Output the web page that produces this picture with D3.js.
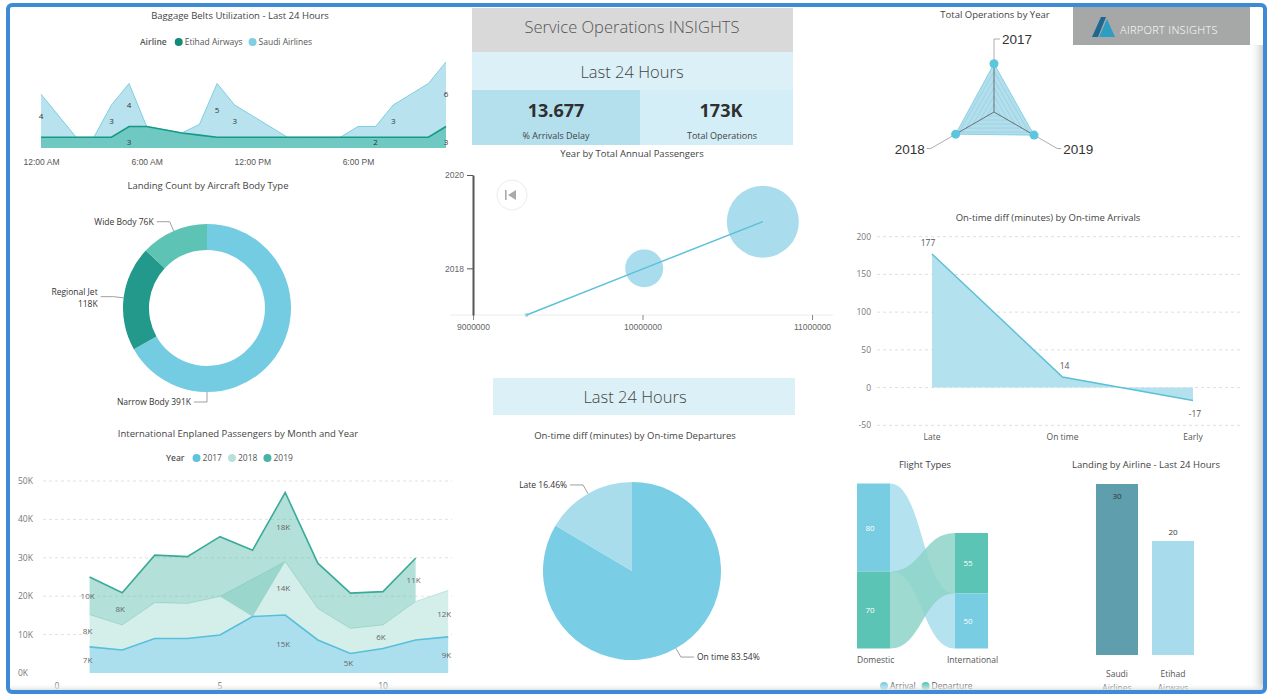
<!DOCTYPE html>
<html>
<head>
<meta charset="utf-8">
<script src="https://cdn.jsdelivr.net/npm/d3@7"></script>
<style>
  body { margin: 0; background: #fff; }
  svg { display: block; font-family: "Open Sans", "Noto Sans", sans-serif; }
</style>
</head>
<body>
<svg id="dash" width="1272" height="700"></svg>
<script>
// ---------- data ----------
// baggage belts in use per hour
const beltHours = [0,1,2,3,4,5,6,7,8,9,10,11,12,13,14,15,16,17,18,19,20,21,22,23];
const etihadBelts = [2,2,2,2,2,3,3,2.7,2.4,2.2,2,2,2,2,2,2,2,2,2,2,2,2,2,3];
const saudiBelts  = [4,2,0,0,3,4,0,0,0,1,5,3,2,1,0,0,0,0,1,1,3,4,5,6];
const beltTickHours = [0,6,12,18];
const beltTickLabels = ["12:00 AM","6:00 AM","12:00 PM","6:00 PM"];
const saudiLabelHours = [0,4,5,10,11,20,23];
const etihadLabelHours = [5,19,23];

// landings by body type (K)
const bodyTypes = ["Narrow Body","Regional Jet","Wide Body"];
const bodyLandings = [391,118,76];

// international enplaned passengers (K)
const months = [1,2,3,4,5,6,7,8,9,10,11,12];
const pax2017 = [6.8,6.0,9.0,9.0,9.9,14.7,15.1,8.6,5.1,6.4,8.6,9.4];
const pax2018 = [8.4,6.5,9.3,9.1,10.0,null,13.9,8.2,6.5,6.1,10.0,12.1];
const pax2019 = [9.8,8.4,12.4,12.2,15.6,17.3,18.0,11.8,9.2,8.7,11.3,null];
const paxTicksY = [0,10,20,30,40,50];
const paxTicksX = [0,5,10];
const label2017 = [1,7,9,12];
const label2018 = [1,7,10,12];
const label2019 = [1,2,7,11];

// KPIs
const kpiDelay = "13.677";
const kpiOps = "173K";

// year by total annual passengers
const paxYears = [2017,2018,2019];
const annualPassengers = [9316000,10010000,10710000];
const bubbleSize = [4,360,1300];

// on-time departures (%)
const departureStatus = ["On time","Late"];
const departureShare = [83.54,16.46];

// total operations by year
const opsYears = ["2017","2018","2019"];
const opsTotals = [61000,56000,58500];

// on-time diff by arrival status (minutes)
const arrivalStatus = ["Late","On time","Early"];
const arrivalDiff = [177,14,-17];
const arrivalTicks = [-50,0,50,100,150,200];

// flight types
const flightTypes = ["Domestic","International"];
const arrivals = [80,50];
const departures = [70,55];

// landings by airline
const airlines = ["Saudi Airlines","Etihad Airways"];
const airlineLandings = [30,20];

// ---------- helpers ----------
const svg = d3.select("#dash");
const txt = "#444";

function title(x, y, s) {
  svg.append("text")
    .attr("x", x).attr("y", y)
    .attr("text-anchor", "middle")
    .style("font-size", "9.5px")
    .style("fill", txt)
    .text(s);
}

function legend(x, y, head, items) {
  let g = svg.append("g").style("font-size", "8.5px").style("fill", "#555");
  let t = g.append("text").attr("x", x).attr("y", y).style("font-weight", 600).text(head);
  let cx = x + t.node().getComputedTextLength() + 8;
  items.forEach(it => {
    g.append("circle").attr("cx", cx + 4).attr("cy", y - 3).attr("r", 4).attr("fill", it.color);
    let l = g.append("text").attr("x", cx + 10).attr("y", y).text(it.name);
    cx += 10 + l.node().getComputedTextLength() + 6;
  });
}

function leader(cx, cy, r, angle, lines) {
  let sx = cx + r * Math.sin(angle), sy = cy - r * Math.cos(angle);
  let ex = cx + (r + 10) * Math.sin(angle), ey = cy - (r + 10) * Math.cos(angle);
  let side = Math.sin(angle) > 0.01 ? 1 : -1;
  svg.append("polyline")
    .attr("points", [[sx, sy], [ex, ey], [ex + side * 13, ey]].join(" "))
    .attr("fill", "none").attr("stroke", "#888").attr("stroke-width", 0.8);
  let t = svg.append("text")
    .attr("x", ex + side * 16).attr("y", ey + (lines.length > 1 ? -2 : 3))
    .attr("text-anchor", side > 0 ? "start" : "end")
    .style("font-size", "8.5px").style("fill", "#333");
  lines.forEach((s, i) => t.append("tspan").attr("x", ex + side * 16).attr("dy", i ? 12 : 0).text(s));
}

// ---------- baggage belts ----------
title(240, 19, "Baggage Belts Utilization - Last 24 Hours");
legend(140, 45, "Airline", [{name: "Etihad Airways", color: "#138a7a"}, {name: "Saudi Airlines", color: "#7fcfe1"}]);

let beltX = d3.scaleLinear().domain([0, 23]).range([41, 446]);
let beltY = d3.scaleLinear().domain([1, 9]).range([148, 62]);
let beltRows = beltHours.map((h, i) => ({h: h, e: etihadBelts[i], s: saudiBelts[i]}));

svg.append("path").datum(beltRows)
  .attr("d", d3.area().x(d => beltX(d.h)).y0(d => beltY(d.e)).y1(d => beltY(d.e + d.s)))
  .attr("fill", "#b8e2ee");
svg.append("path").datum(beltRows)
  .attr("d", d3.line().x(d => beltX(d.h)).y(d => beltY(d.e + d.s)))
  .attr("fill", "none").attr("stroke", "#7fcfe1").attr("stroke-width", 1);
svg.append("path").datum(beltRows)
  .attr("d", d3.area().x(d => beltX(d.h)).y0(beltY(1)).y1(d => beltY(d.e)))
  .attr("fill", "#6fc8c2");
svg.append("path").datum(beltRows)
  .attr("d", d3.line().x(d => beltX(d.h)).y(d => beltY(d.e)))
  .attr("fill", "none").attr("stroke", "#179985").attr("stroke-width", 1.6);

svg.append("g").selectAll("text")
  .data(saudiLabelHours)
  .enter().append("text")
  .attr("x", h => beltX(h))
  .attr("y", h => (beltY(etihadBelts[h]) + beltY(etihadBelts[h] + saudiBelts[h])) / 2 + 3)
  .attr("text-anchor", "middle")
  .style("font-size", "8px").style("fill", "#333")
  .text(h => saudiBelts[h]);
svg.append("g").selectAll("text")
  .data(etihadLabelHours)
  .enter().append("text")
  .attr("x", h => beltX(h))
  .attr("y", 145)
  .attr("text-anchor", "middle")
  .style("font-size", "8px").style("fill", "#333")
  .text(h => Math.round(etihadBelts[h]));

let beltAxis = svg.append("g")
  .attr("transform", "translate(0,151)")
  .call(d3.axisBottom(beltX).tickValues(beltTickHours).tickFormat((d, i) => beltTickLabels[i]).tickSize(0).tickPadding(8));
beltAxis.select(".domain").remove();
beltAxis.selectAll("text").style("font-size", "8.5px").style("fill", "#555").style("font-family", "inherit");

// ---------- donut ----------
title(208, 189, "Landing Count by Aircraft Body Type");
let bodyColors = ["#74cce3", "#22998a", "#5cc3b5"];
let donutCx = 207, donutCy = 308, donutR = 84;
let bodyPie = d3.pie().sort(null)(bodyLandings);
svg.append("g")
  .attr("transform", `translate(${donutCx},${donutCy})`)
  .selectAll("path")
  .data(bodyPie)
  .enter().append("path")
  .attr("d", d3.arc().innerRadius(58).outerRadius(donutR))
  .attr("fill", (d, i) => bodyColors[i]);
bodyPie.forEach((d, i) => {
  let mid = (d.startAngle + d.endAngle) / 2;
  let ang = mid > 1.7 && mid < 2.6 ? Math.PI : mid; // big slice label sits below the ring
  let lines = bodyTypes[i] === "Regional Jet"
    ? [bodyTypes[i], bodyLandings[i] + "K"]
    : [bodyTypes[i] + " " + bodyLandings[i] + "K"];
  leader(donutCx, donutCy, donutR, ang, lines);
});

// ---------- enplaned passengers ----------
title(238, 437, "International Enplaned Passengers by Month and Year");
legend(166, 461, "Year", [{name: "2017", color: "#5ec4de"}, {name: "2018", color: "#b8e1db"}, {name: "2019", color: "#47b5a3"}]);

let paxX = d3.scaleLinear().domain([0, 10]).range([57, 383]);
let paxY = d3.scaleLinear().domain([0, 50]).range([673, 481]);
let paxRows = months.map((m, i) => {
  let c17 = pax2017[i];
  let c18 = c17 + (pax2018[i] || 0);
  return {m: m, c17: c17, v18: pax2018[i], c18: c18, v19: pax2019[i], c19: c18 + (pax2019[i] || 0)};
});

svg.append("g").selectAll("line")
  .data(paxTicksY.slice(1))
  .enter().append("line")
  .attr("x1", 43).attr("x2", 452)
  .attr("y1", d => paxY(d)).attr("y2", d => paxY(d))
  .attr("stroke", "#e2e2e2").attr("stroke-dasharray", "3,3");
svg.append("g").selectAll("text")
  .data(paxTicksY)
  .enter().append("text")
  .attr("x", 18).attr("y", d => paxY(d) + 3)
  .style("font-size", "8.5px").style("fill", "#777")
  .text(d => d + "K");
svg.append("g").selectAll("text")
  .data(paxTicksX)
  .enter().append("text")
  .attr("x", d => paxX(d)).attr("y", 689)
  .attr("text-anchor", "middle")
  .style("font-size", "8.5px").style("fill", "#777")
  .text(d => d);

svg.append("path").datum(paxRows)
  .attr("d", d3.area().x(d => paxX(d.m)).y0(paxY(0)).y1(d => paxY(d.c17)))
  .attr("fill", "#abdfee");
// 2018: top skips the missing month, bottom follows 2017
let top18 = paxRows.filter(d => d.v18 != null).map(d => [paxX(d.m), paxY(d.c17 + d.v18)]);
let bot18 = paxRows.map(d => [paxX(d.m), paxY(d.c17)]).reverse();
svg.append("path")
  .attr("d", d3.line()(top18.concat(bot18)) + "Z")
  .attr("fill", "#d4eeea");
svg.append("path")
  .attr("d", d3.line()(top18))
  .attr("fill", "none").attr("stroke", "#bfe3dd").attr("stroke-width", 1);
let rows19 = paxRows.filter(d => d.v19 != null);
svg.append("path").datum(rows19)
  .attr("d", d3.area().x(d => paxX(d.m)).y0(d => paxY(d.c18)).y1(d => paxY(d.c19)))
  .attr("fill", "#4ab6a3").attr("fill-opacity", 0.42);
svg.append("path").datum(rows19)
  .attr("d", d3.line().x(d => paxX(d.m)).y(d => paxY(d.c19)))
  .attr("fill", "none").attr("stroke", "#3aab98").attr("stroke-width", 1.6);
svg.append("path").datum(paxRows)
  .attr("d", d3.line().x(d => paxX(d.m)).y(d => paxY(d.c17)))
  .attr("fill", "none").attr("stroke", "#57bfdc").attr("stroke-width", 1.6);

function paxLabels(list, lo, hi, val) {
  svg.append("g").selectAll("text")
    .data(list)
    .enter().append("text")
    .attr("x", m => m === 12 ? paxX(m) + 3 : paxX(m) - 2)
    .attr("y", m => (paxY(lo(paxRows[m - 1])) + paxY(hi(paxRows[m - 1]))) / 2 + 3)
    .attr("text-anchor", m => m === 12 ? "end" : "middle")
    .style("font-size", "8px").style("fill", "#666")
    .text(m => Math.round(val(paxRows[m - 1])) + "K");
}
paxLabels(label2017, d => 0, d => d.c17, d => d.c17);
paxLabels(label2018, d => d.c17, d => d.c18, d => d.v18);
paxLabels(label2019, d => d.c18, d => d.c19, d => d.v19);

// ---------- KPI header ----------
svg.append("rect").attr("x", 472).attr("y", 8).attr("width", 321).attr("height", 44).attr("fill", "#d9d9d9");
svg.append("rect").attr("x", 472).attr("y", 52).attr("width", 321).attr("height", 38).attr("fill", "#dcf1f7");
svg.append("rect").attr("x", 472).attr("y", 90).attr("width", 168).attr("height", 55).attr("fill", "#b4e0ee");
svg.append("rect").attr("x", 640).attr("y", 90).attr("width", 153).attr("height", 55).attr("fill", "#d3eef6");
svg.append("text").attr("x", 632).attr("y", 33).attr("text-anchor", "middle")
  .style("font-size", "16.5px").style("font-weight", 300).style("fill", "#555").text("Service Operations INSIGHTS");
svg.append("text").attr("x", 632).attr("y", 78).attr("text-anchor", "middle")
  .style("font-size", "16.5px").style("font-weight", 300).style("fill", "#444").text("Last 24 Hours");
svg.append("text").attr("x", 556).attr("y", 117).attr("text-anchor", "middle")
  .style("font-size", "18px").style("font-weight", 700).style("fill", "#2f2f2f").text(kpiDelay);
svg.append("text").attr("x", 556).attr("y", 139).attr("text-anchor", "middle")
  .style("font-size", "9px").style("fill", "#444").text("% Arrivals Delay");
svg.append("text").attr("x", 721).attr("y", 117).attr("text-anchor", "middle")
  .style("font-size", "18px").style("font-weight", 700).style("fill", "#2f2f2f").text(kpiOps);
svg.append("text").attr("x", 722).attr("y", 139).attr("text-anchor", "middle")
  .style("font-size", "9px").style("fill", "#444").text("Total Operations");

// ---------- scatter ----------
title(632, 157, "Year by Total Annual Passengers");
let scX = d3.scaleLinear().domain([9000000, 11000000]).range([473, 812]);
let scY = d3.scaleLinear().domain([2017, 2020]).range([315, 175]);
let scR = d3.scaleSqrt().domain([0, 1300]).range([0, 36]);
let scPts = paxYears.map((y, i) => ({year: y, pax: annualPassengers[i], size: bubbleSize[i]}));

svg.append("line").attr("x1", 450).attr("x2", 833).attr("y1", 315).attr("y2", 315)
  .attr("stroke", "#ececec");
let sxAxis = svg.append("g")
  .attr("transform", "translate(0,315)")
  .call(d3.axisBottom(scX).tickValues([9000000, 10000000, 11000000]).tickFormat(d3.format("d")).tickSize(5).tickSizeOuter(0).tickPadding(4));
sxAxis.select(".domain").remove();
sxAxis.selectAll("line").attr("stroke", "#888");
sxAxis.selectAll("text").style("font-size", "8.5px").style("fill", "#666").style("font-family", "inherit");
let syAxis = svg.append("g")
  .attr("transform", "translate(473,0)")
  .call(d3.axisLeft(scY).tickValues([2018, 2020]).tickFormat(d3.format("d")).tickSize(6).tickSizeOuter(0));
syAxis.select(".domain").attr("stroke", "#555").attr("stroke-width", 2);
syAxis.selectAll("line").attr("stroke", "#555");
syAxis.selectAll("text").style("font-size", "8.5px").style("fill", "#666").style("font-family", "inherit");

svg.append("g").selectAll("circle")
  .data(scPts)
  .enter().append("circle")
  .attr("cx", d => scX(d.pax)).attr("cy", d => scY(d.year))
  .attr("r", d => scR(d.size))
  .attr("fill", "#a9dcec");
svg.append("path").datum(scPts)
  .attr("d", d3.line().x(d => scX(d.pax)).y(d => scY(d.year)))
  .attr("fill", "none").attr("stroke", "#5cc0d9").attr("stroke-width", 1.5);

// play button
svg.append("circle").attr("cx", 512).attr("cy", 195).attr("r", 15).attr("fill", "#fff").attr("stroke", "#ececec");
svg.append("rect").attr("x", 505).attr("y", 190).attr("width", 1.6).attr("height", 10).attr("fill", "#aaa");
svg.append("path").attr("d", "M508,195L516,190L516,200Z").attr("fill", "#aaa");

// ---------- departures pie ----------
svg.append("rect").attr("x", 493).attr("y", 378).attr("width", 302).attr("height", 37).attr("fill", "#dcf1f7");
svg.append("text").attr("x", 635).attr("y", 403).attr("text-anchor", "middle")
  .style("font-size", "16.5px").style("font-weight", 300).style("fill", "#444").text("Last 24 Hours");
title(635, 439, "On-time diff (minutes) by On-time Departures");

let pieCx = 632, pieCy = 571, pieR = 89;
let depColors = ["#79cde4", "#a9ddec"];
let depPie = d3.pie().sort(null)(departureShare);
svg.append("g")
  .attr("transform", `translate(${pieCx},${pieCy})`)
  .selectAll("path")
  .data(depPie)
  .enter().append("path")
  .attr("d", d3.arc().innerRadius(0).outerRadius(pieR))
  .attr("fill", (d, i) => depColors[i]);
depPie.forEach((d, i) => {
  leader(pieCx, pieCy, pieR, (d.startAngle + d.endAngle) / 2, [departureStatus[i] + " " + departureShare[i].toFixed(2) + "%"]);
});

// ---------- radar ----------
title(995, 18, "Total Operations by Year");
let radCx = 994, radCy = 112, radMax = 49;
let radR = d3.scaleLinear().domain([0, 62000]).range([0, radMax]);
// axes clockwise from top: 2017 top, 2019 lower right, 2018 lower left
let radAngles = [0, 4 * Math.PI / 3, 2 * Math.PI / 3];
let radPt = (i, r) => [radCx + r * Math.sin(radAngles[i]), radCy - r * Math.cos(radAngles[i])];

let radPoly = opsTotals.map((v, i) => radPt(i, radR(v)));
svg.append("path").attr("d", d3.line()(radPoly) + "Z")
  .attr("fill", "#a9dcec").attr("fill-opacity", 0.9)
  .attr("stroke", "#86d1e3").attr("stroke-width", 1);
[1, 2, 3, 4, 5].forEach(k => {
  let ring = opsYears.map((y, i) => radPt(i, radMax * 0.82 * k / 5));
  svg.append("path").attr("d", d3.line()(ring) + "Z")
    .attr("fill", "none").attr("stroke", "#7fb0bc").attr("stroke-width", 0.5).attr("stroke-opacity", 0.6);
});
opsYears.forEach((y, i) => {
  let p = radPt(i, radR(opsTotals[i]));
  svg.append("line").attr("x1", radCx).attr("y1", radCy).attr("x2", p[0]).attr("y2", p[1])
    .attr("stroke", "#555").attr("stroke-width", 0.8);
});
svg.append("g").selectAll("circle")
  .data(radPoly)
  .enter().append("circle")
  .attr("cx", d => d[0]).attr("cy", d => d[1]).attr("r", 4.5)
  .attr("fill", "#5cc6de");
opsYears.forEach((y, i) => {
  let a = radPt(i, radR(opsTotals[i]) + 4);
  let e = radPt(i, radMax + 24);
  let side = i === 1 ? -1 : 1;
  let ext = i === 0 ? 6 : 4;
  svg.append("polyline")
    .attr("points", [a, e, [e[0] + side * ext, e[1]]].join(" "))
    .attr("fill", "none").attr("stroke", "#999").attr("stroke-width", 0.8);
  svg.append("text")
    .attr("x", e[0] + side * (ext + 2)).attr("y", e[1] + 5)
    .attr("text-anchor", side > 0 ? "start" : "end")
    .style("font-family", "'Liberation Sans', Arial, sans-serif")
    .style("font-size", "13.5px").style("fill", "#333")
    .text(y);
});

// ---------- logo ----------
svg.append("rect").attr("x", 1073).attr("y", 7).attr("width", 177).attr("height", 38).attr("fill", "#a6a8a8");
svg.append("path").attr("d", "M1092,37L1101,17L1106,17L1098,37Z").attr("fill", "#1d6791");
svg.append("path").attr("d", "M1099,37L1107,19L1115,37Z").attr("fill", "#2d9ec2");
svg.append("text").attr("x", 1120).attr("y", 34)
  .style("font-size", "11px").style("font-weight", 300).style("fill", "#fff").style("letter-spacing", "0.3px")
  .text("AIRPORT INSIGHTS");

// ---------- arrivals on-time diff ----------
title(1048, 221, "On-time diff (minutes) by On-time Arrivals");
let arrX = d3.scalePoint().domain(arrivalStatus).range([932, 1193]);
let arrY = d3.scaleLinear().domain([-50, 200]).range([425.3, 236.7]);
svg.append("g").selectAll("line")
  .data(arrivalTicks)
  .enter().append("line")
  .attr("x1", 877).attr("x2", 1243)
  .attr("y1", d => arrY(d)).attr("y2", d => arrY(d))
  .attr("stroke", "#dedede").attr("stroke-dasharray", "3,3");
svg.append("g").selectAll("text")
  .data(arrivalTicks)
  .enter().append("text")
  .attr("x", 871).attr("y", d => arrY(d) + 3)
  .attr("text-anchor", "end")
  .style("font-size", "8.5px").style("fill", "#777")
  .text(d => d);
let arrRows = arrivalStatus.map((s, i) => ({s: s, v: arrivalDiff[i]}));
svg.append("path").datum(arrRows)
  .attr("d", d3.area().x(d => arrX(d.s)).y0(arrY(0)).y1(d => arrY(d.v)))
  .attr("fill", "#b3e1ee");
svg.append("path").datum(arrRows)
  .attr("d", d3.line().x(d => arrX(d.s)).y(d => arrY(d.v)))
  .attr("fill", "none").attr("stroke", "#5cc0d9").attr("stroke-width", 1.5);
svg.append("g").selectAll("text")
  .data(arrRows)
  .enter().append("text")
  .attr("x", d => arrX(d.s) + (d.v > 100 ? -4 : 2))
  .attr("y", d => d.v >= 0 ? arrY(d.v) - 8 : arrY(d.v) + 17)
  .attr("text-anchor", "middle")
  .style("font-size", "8.5px").style("fill", "#555")
  .text(d => d.v);
svg.append("g").selectAll("text")
  .data(arrivalStatus)
  .enter().append("text")
  .attr("x", d => arrX(d)).attr("y", 440)
  .attr("text-anchor", "middle")
  .style("font-size", "8.5px").style("fill", "#555")
  .text(d => d);

// ---------- flight types ribbon ----------
title(925, 468, "Flight Types");
let ftH = d3.scaleLinear().domain([0, 150]).range([0, 165]);
let ftBottom = 648.5;
let ftNodeX = [857, 955], ftNodeW = 33;
let serColor = {Arrival: "#78cde3", Departure: "#5cc4b4"};
let ribColor = {Arrival: "#a8ddec", Departure: "#8dd4c8"};
// per node: stack segments, larger value on top
let ftSegs = flightTypes.map((f, i) => {
  let segs = [{ser: "Arrival", v: arrivals[i]}, {ser: "Departure", v: departures[i]}]
    .sort((a, b) => b.v - a.v);
  let y = ftBottom - ftH(arrivals[i] + departures[i]);
  segs.forEach(s => { s.y0 = y; y += ftH(s.v); s.y1 = y; });
  return segs;
});
["Arrival", "Departure"].forEach(ser => {
  let a = ftSegs[0].find(s => s.ser === ser), b = ftSegs[1].find(s => s.ser === ser);
  let x0 = ftNodeX[0] + ftNodeW, x1 = ftNodeX[1], xm = (x0 + x1) / 2;
  let p = d3.path();
  p.moveTo(x0, a.y0);
  p.bezierCurveTo(xm, a.y0, xm, b.y0, x1, b.y0);
  p.lineTo(x1, b.y1);
  p.bezierCurveTo(xm, b.y1, xm, a.y1, x0, a.y1);
  p.closePath();
  svg.append("path").attr("d", p.toString()).attr("fill", ribColor[ser]).attr("fill-opacity", 0.85);
});
ftSegs.forEach((segs, i) => {
  segs.forEach(s => {
    svg.append("rect").attr("x", ftNodeX[i]).attr("y", s.y0)
      .attr("width", ftNodeW).attr("height", s.y1 - s.y0)
      .attr("fill", serColor[s.ser]);
    svg.append("text").attr("x", ftNodeX[i] + 13).attr("y", (s.y0 + s.y1) / 2 + 3)
      .attr("text-anchor", "middle")
      .style("font-size", "8px").style("fill", "#fff")
      .text(s.v);
  });
  svg.append("text").attr("x", i ? ftNodeX[i] - 8 : ftNodeX[i]).attr("y", 663)
    .style("font-size", "8.5px").style("fill", "#555")
    .text(flightTypes[i]);
});
legend(872, 689, "", [{name: "Arrival", color: serColor.Arrival}, {name: "Departure", color: serColor.Departure}]);

// ---------- landings by airline ----------
title(1146, 468, "Landing by Airline - Last 24 Hours");
let barX = d3.scaleBand().domain(airlines).range([1089, 1201]).paddingInner(0.25).paddingOuter(0.125);
let barY = d3.scaleLinear().domain([0, 30]).range([655, 484]);
let barColors = ["#5f9ead", "#a8dcec"];
let maxLanding = d3.max(airlineLandings);
svg.append("g").selectAll("rect")
  .data(airlines)
  .enter().append("rect")
  .attr("x", d => barX(d)).attr("width", barX.bandwidth())
  .attr("y", (d, i) => barY(airlineLandings[i]))
  .attr("height", (d, i) => barY(0) - barY(airlineLandings[i]))
  .attr("fill", (d, i) => barColors[i]);
svg.append("g").selectAll("text")
  .data(airlines)
  .enter().append("text")
  .attr("x", d => barX(d) + barX.bandwidth() / 2)
  .attr("y", (d, i) => airlineLandings[i] === maxLanding ? barY(airlineLandings[i]) + 15 : barY(airlineLandings[i]) - 6)
  .attr("text-anchor", "middle")
  .style("font-size", "8px").style("fill", "#333")
  .text((d, i) => airlineLandings[i]);
airlines.forEach(a => {
  let t = svg.append("text").attr("text-anchor", "middle")
    .style("font-size", "8.5px").style("fill", "#555");
  a.split(" ").forEach((w, k) => {
    t.append("tspan").attr("x", barX(a) + barX.bandwidth() / 2).attr("y", 677 + k * 14).text(w);
  });
});

// ---------- frame ----------
let defs = svg.append("defs");
let gr = defs.append("linearGradient").attr("id", "shadeR");
gr.append("stop").attr("offset", "0").attr("stop-color", "#fff").attr("stop-opacity", 0);
gr.append("stop").attr("offset", "1").attr("stop-color", "#cfcfcf");
let gb = defs.append("linearGradient").attr("id", "shadeB").attr("x2", 0).attr("y2", 1);
gb.append("stop").attr("offset", "0").attr("stop-color", "#fff").attr("stop-opacity", 0);
gb.append("stop").attr("offset", "1").attr("stop-color", "#dcdcdc");
svg.append("rect").attr("x", 1249).attr("y", 45).attr("width", 14).attr("height", 645).attr("fill", "url(#shadeR)");
svg.append("rect").attr("x", 10).attr("y", 683).attr("width", 1253).attr("height", 8).attr("fill", "url(#shadeB)");
svg.append("rect")
  .attr("x", 8).attr("y", 5).attr("width", 1257).attr("height", 687).attr("rx", 4)
  .attr("fill", "none").attr("stroke", "#3d8bd6").attr("stroke-width", 4);
</script>
</body>
</html>
